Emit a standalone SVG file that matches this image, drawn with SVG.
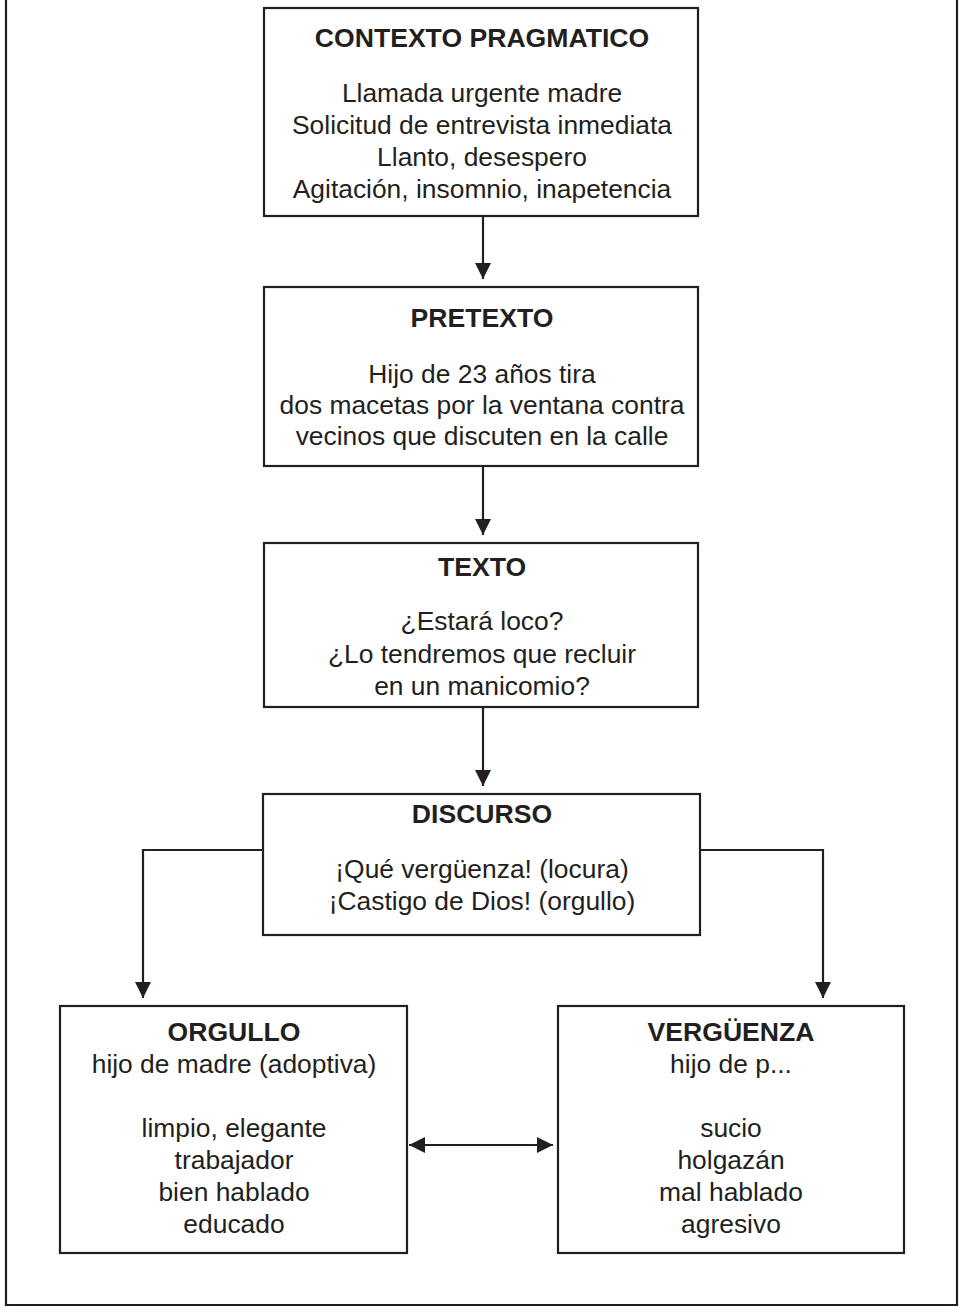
<svg xmlns="http://www.w3.org/2000/svg" width="959" height="1307" viewBox="0 0 959 1307">
<defs>
<marker id="ah" viewBox="0 0 16 16" markerWidth="16" markerHeight="16" refX="16" refY="8" orient="auto" markerUnits="userSpaceOnUse">
<path d="M0,0 L16,8 L0,16 z" fill="#231f20"/>
</marker>
<marker id="ahs" viewBox="0 0 16 16" markerWidth="16" markerHeight="16" refX="16" refY="8" orient="auto-start-reverse" markerUnits="userSpaceOnUse">
<path d="M0,0 L16,8 L0,16 z" fill="#231f20"/>
</marker>
</defs>
<style>
.box{fill:#fff;stroke:#231f20;stroke-width:2.2}
.t{font-family:"Liberation Sans",Arial,sans-serif;font-weight:bold;font-size:26.6px;fill:#231f20;text-anchor:middle}
.b{font-family:"Liberation Sans",Arial,sans-serif;font-size:26.4px;fill:#231f20;text-anchor:middle}
.c{fill:none;stroke:#231f20;stroke-width:2.2}
</style>
<rect width="959" height="1307" fill="#fff"/>
<path d="M6,-5 V1305 H957 V-5" fill="none" stroke="#231f20" stroke-width="2.2"/>
<g id="contexto">
<rect class="box" x="264" y="8" width="434" height="208"/>
<text class="t" x="482" y="47">CONTEXTO PRAGMATICO</text>
<text class="b" x="482" y="102">Llamada urgente madre</text>
<text class="b" x="482" y="134">Solicitud de entrevista inmediata</text>
<text class="b" x="482" y="166">Llanto, desespero</text>
<text class="b" x="482" y="198">Agitación, insomnio, inapetencia</text>
</g>
<g id="pretexto">
<rect class="box" x="264" y="287" width="434" height="179"/>
<text class="t" x="482" y="327">PRETEXTO</text>
<text class="b" x="482" y="383">Hijo de 23 años tira</text>
<text class="b" x="482" y="414">dos macetas por la ventana contra</text>
<text class="b" x="482" y="445">vecinos que discuten en la calle</text>
</g>
<g id="texto">
<rect class="box" x="264" y="543" width="434" height="164"/>
<text class="t" x="482" y="576">TEXTO</text>
<text class="b" x="482" y="630">¿Estará loco?</text>
<text class="b" x="482" y="663">¿Lo tendremos que recluir</text>
<text class="b" x="482" y="695">en un manicomio?</text>
</g>
<g id="discurso">
<rect class="box" x="263" y="794" width="437" height="141"/>
<text class="t" x="482" y="823">DISCURSO</text>
<text class="b" x="482" y="878">¡Qué vergüenza! (locura)</text>
<text class="b" x="482" y="910">¡Castigo de Dios! (orgullo)</text>
</g>
<g id="orgullo">
<rect class="box" x="60" y="1006" width="347" height="247"/>
<text class="t" x="234" y="1041">ORGULLO</text>
<text class="b" x="234" y="1073">hijo de madre (adoptiva)</text>
<text class="b" x="234" y="1137">limpio, elegante</text>
<text class="b" x="234" y="1169">trabajador</text>
<text class="b" x="234" y="1201">bien hablado</text>
<text class="b" x="234" y="1233">educado</text>
</g>
<g id="verguenza">
<rect class="box" x="558" y="1006" width="346" height="247"/>
<text class="t" x="731" y="1041">VERGÜENZA</text>
<text class="b" x="731" y="1073">hijo de p...</text>
<text class="b" x="731" y="1137">sucio</text>
<text class="b" x="731" y="1169">holgazán</text>
<text class="b" x="731" y="1201">mal hablado</text>
<text class="b" x="731" y="1233">agresivo</text>
</g>
<g id="connectors">
<path class="c" d="M483,216 V279" marker-end="url(#ah)"/>
<path class="c" d="M483,466 V535" marker-end="url(#ah)"/>
<path class="c" d="M483,707 V786" marker-end="url(#ah)"/>
<path class="c" d="M263,850 H143 V998" marker-end="url(#ah)"/>
<path class="c" d="M700,850 H823 V998" marker-end="url(#ah)"/>
<path class="c" d="M409,1145 H553" marker-start="url(#ahs)" marker-end="url(#ah)"/>
</g>
</svg>
